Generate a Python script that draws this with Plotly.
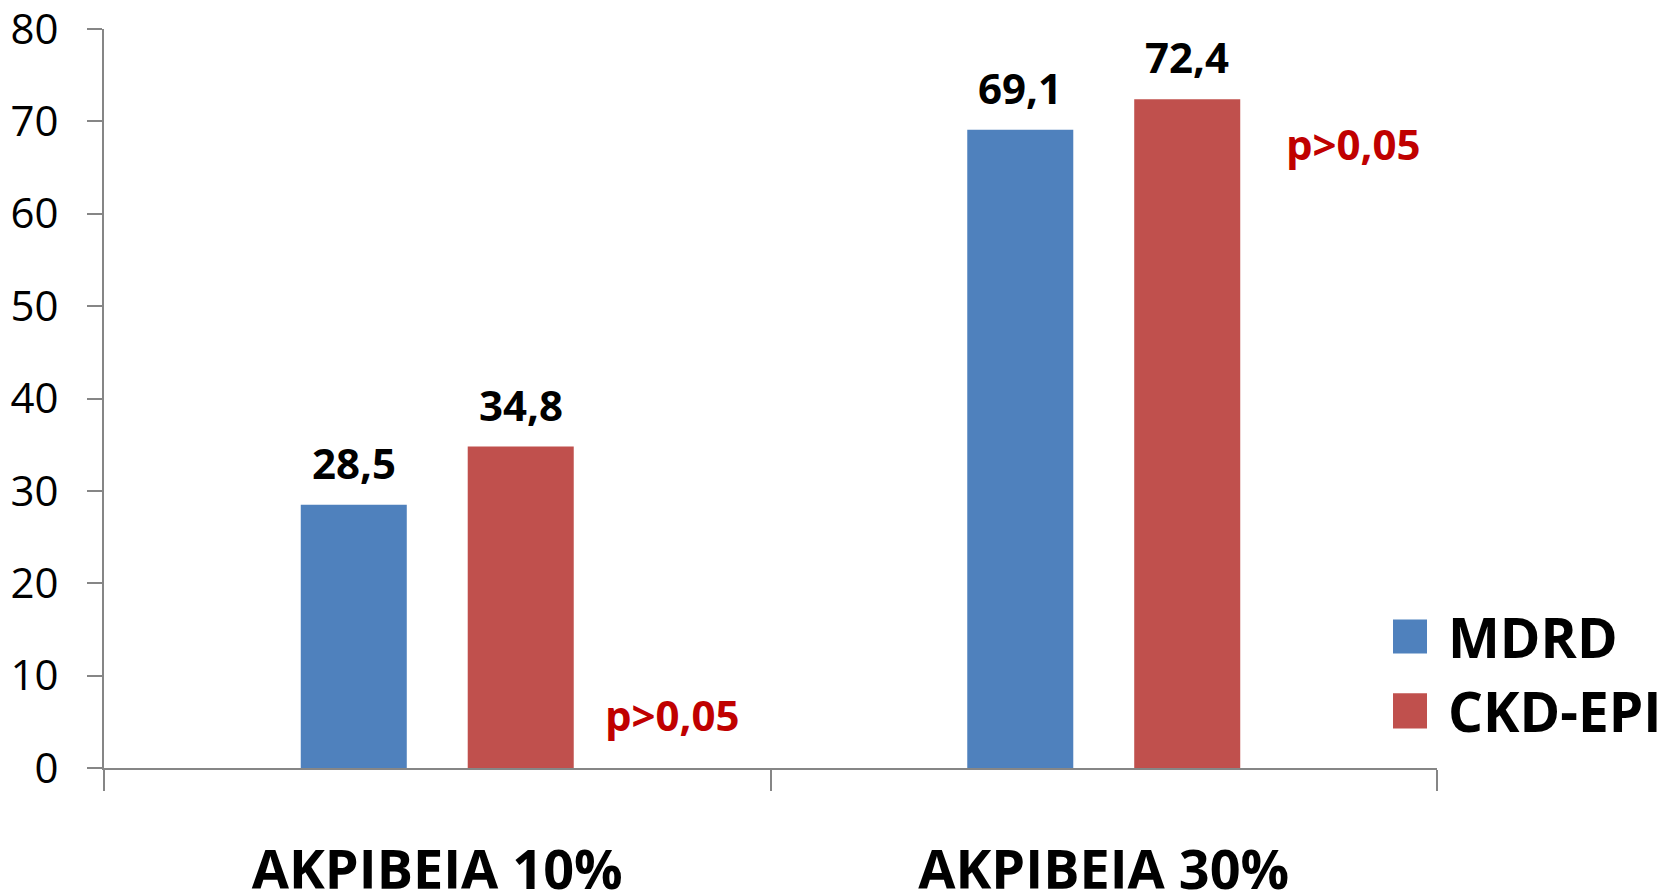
import plotly.graph_objects as go

# Accuracy of GFR estimation equations (% of estimates within 10% / 30%)
categories = ["ΑΚΡΙΒΕΙΑ 10%", "ΑΚΡΙΒΕΙΑ 30%"]
series_names = ["MDRD", "CKD-EPI"]
mdrd_values = [28.5, 69.1]
ckd_epi_values = [34.8, 72.4]
p_labels = ["p>0,05", "p>0,05"]
y_ticks = [0, 10, 20, 30, 40, 50, 60, 70, 80]

colors = ["#4F81BD", "#C0504D"]
font_family = "Open Sans, Noto Sans, sans-serif"
axis_grey = "#868686"

fig = go.Figure()
all_values = [mdrd_values, ckd_epi_values]
for name, values, color in zip(series_names, all_values, colors):
    fig.add_trace(go.Bar(
        name=name,
        x=categories,
        y=values,
        marker=dict(color=color, line=dict(width=0)),
        showlegend=False,
    ))

# Value labels above each bar (bar centres sit 0.125 category widths off-centre)
bar_offsets = [-0.125, 0.125]
for off, values in zip(bar_offsets, all_values):
    for i, v in enumerate(values):
        fig.add_annotation(
            x=i + off, y=v, xref="x", yref="y",
            text=f"{v:.1f}".replace(".", ","), showarrow=False,
            xanchor="center", yanchor="bottom", yshift=12,
            font=dict(family=font_family, size=42, color="black", weight="bold"),
        )

# p-value notes beside each category
p_offsets = [0.353, 0.374]
p_heights = [5.8, 67.6]
for i, txt in enumerate(p_labels):
    fig.add_annotation(
        x=i + p_offsets[i], y=p_heights[i], xref="x", yref="y",
        text=txt, showarrow=False,
        font=dict(family=font_family, size=42, color="#C00000", weight="bold"),
        xanchor="center", yanchor="middle",
    )

# Legend with large square swatches
legend_rows = [(0.155, 0.201, 0.178), (0.0536, 0.101, 0.078)]
for (y0, y1, yc), name, color in zip(legend_rows, series_names, colors):
    fig.add_shape(type="rect", xref="paper", yref="paper",
                  x0=0.967, x1=0.9925, y0=y0, y1=y1,
                  fillcolor=color, line=dict(width=0))
    fig.add_annotation(x=1.0068, y=yc, xref="paper", yref="paper",
                       text=name, showarrow=False, xanchor="left", yanchor="middle",
                       font=dict(family=font_family, size=55, color="black", weight="bold"))

fig.update_layout(
    width=1667, height=894,
    margin=dict(l=104, r=230, t=29, b=126),
    paper_bgcolor="white", plot_bgcolor="white",
    barmode="group", bargap=0.499, bargroupgap=0.365,
    separators=",.",
    showlegend=False,
    font=dict(family=font_family, color="black"),
)
fig.update_xaxes(
    automargin=False,
    showline=True, linecolor=axis_grey, linewidth=2,
    ticks="outside", tickson="boundaries", ticklen=21, tickwidth=2, tickcolor=axis_grey,
    tickfont=dict(family=font_family, size=54, color="black", weight="bold"),
    ticklabelstandoff=54,
    ticklabeloverflow="allow",
    showgrid=False, zeroline=False,
)
fig.update_yaxes(
    automargin=False,
    range=[0, 80], tickvals=y_ticks,
    showline=True, linecolor=axis_grey, linewidth=2,
    ticks="outside", ticklen=15, tickwidth=2, tickcolor=axis_grey,
    tickfont=dict(family=font_family, size=42, color="black"),
    ticklabelstandoff=20,
    ticklabeloverflow="allow",
    showgrid=False, zeroline=False,
)

fig.write_html("out.html")
